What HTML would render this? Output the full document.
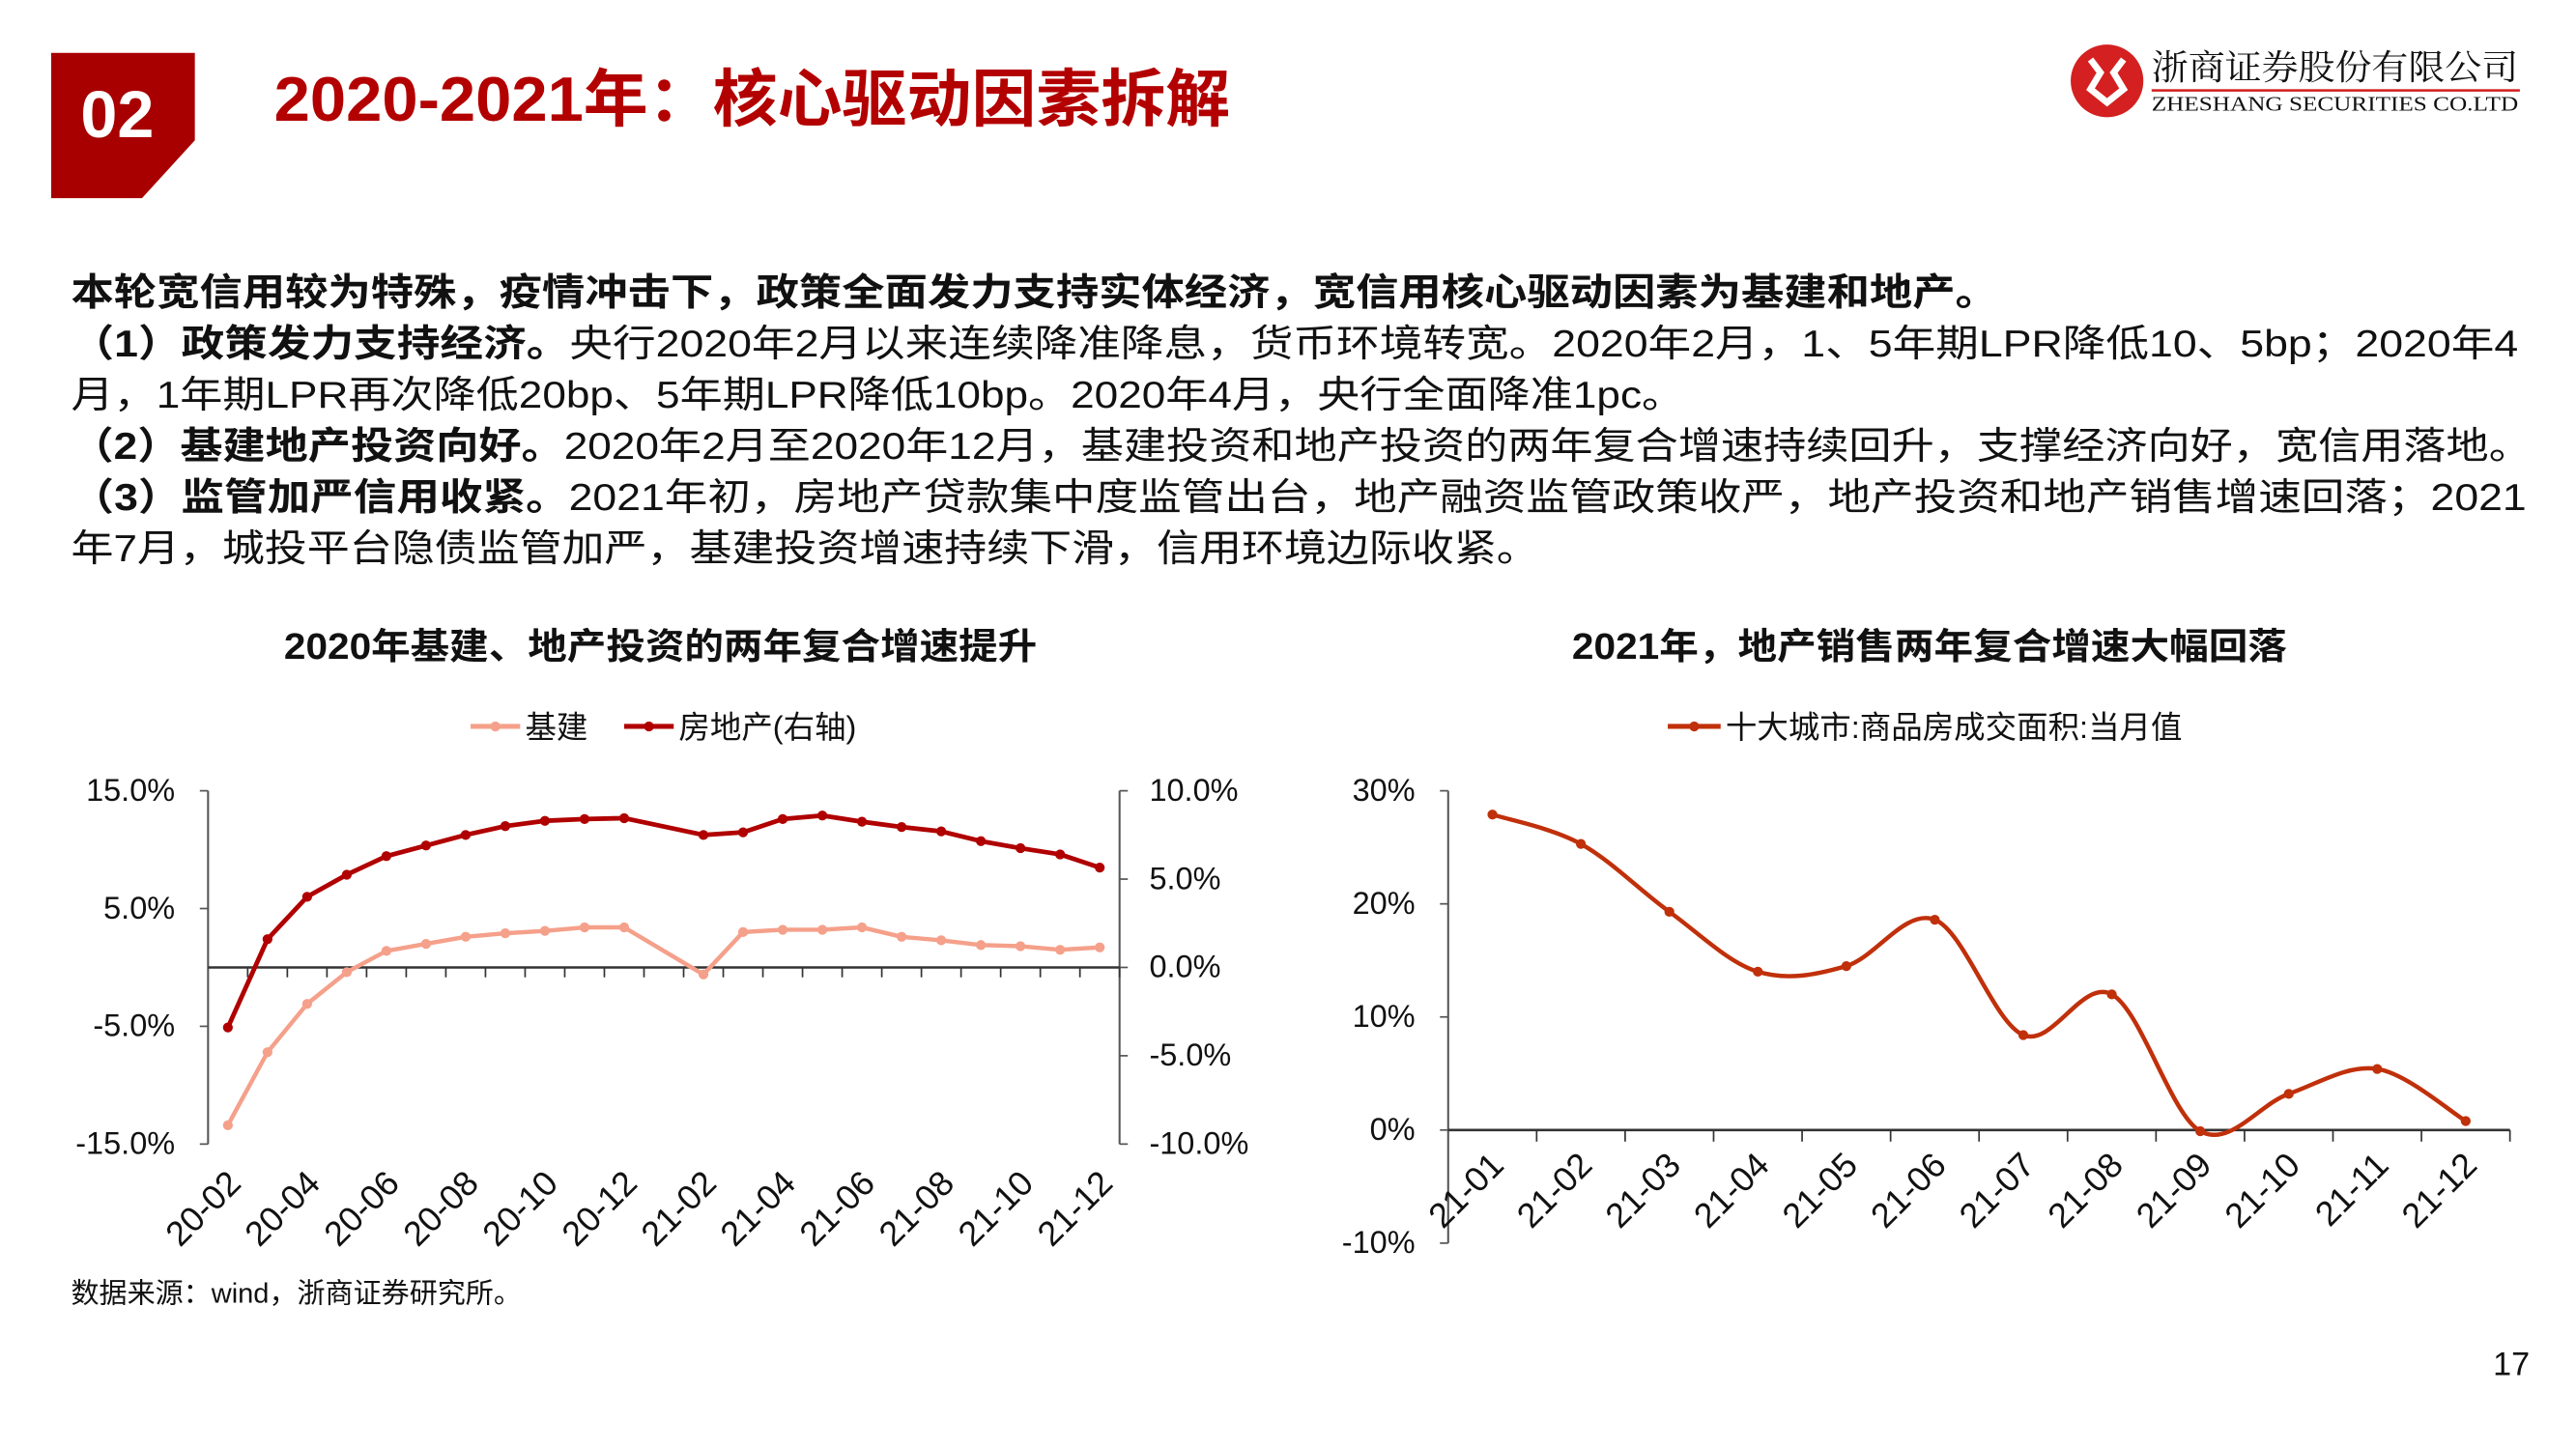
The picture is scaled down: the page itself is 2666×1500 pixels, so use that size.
<!DOCTYPE html>
<html><head><meta charset="utf-8"><style>
html,body{margin:0;padding:0;background:#fff;}
svg{display:block;font-family:"Liberation Sans","Noto Sans CJK SC",sans-serif;}
</style></head><body>
<svg id="page" width="2666" height="1500" viewBox="0 0 1560 877.7" xmlns="http://www.w3.org/2000/svg">
<polygon points="31,32 118,32 118,85 86,120 31,120" fill="#a80000"/>
<text x="71" y="83" font-size="40" font-weight="bold" fill="#fff" text-anchor="middle">02</text>
<text x="166" y="73" font-size="38" font-weight="bold" fill="#b30000" textLength="579" lengthAdjust="spacingAndGlyphs">2020-2021年：核心驱动因素拆解</text>
<g>
<circle cx="1276" cy="49" r="22" fill="#d42020"/>
<path d="M1266,36 L1272,44 L1266,54 L1276,62 L1286,54 L1280,44 L1286,36" fill="none" stroke="#fff" stroke-width="4"/>
<text x="1303" y="48" font-size="21" fill="#111" font-family="'Noto Serif CJK SC',serif" textLength="222" lengthAdjust="spacingAndGlyphs">浙商证券股份有限公司</text>
<rect x="1303" y="54" width="223" height="1.5" fill="#d42020"/>
<text x="1303" y="67" font-size="12.5" fill="#111" font-family="'Liberation Serif',serif" textLength="222" lengthAdjust="spacingAndGlyphs">ZHESHANG SECURITIES CO.LTD</text>
</g>
<g font-size="23" fill="#111">
<text x="43" y="185" font-weight="bold" textLength="1167" lengthAdjust="spacingAndGlyphs">本轮宽信用较为特殊，疫情冲击下，政策全面发力支持实体经济，宽信用核心驱动因素为基建和地产。</text>
<text x="43" y="216" textLength="1482" lengthAdjust="spacingAndGlyphs"><tspan font-weight="bold">（1）政策发力支持经济。</tspan>央行2020年2月以来连续降准降息，货币环境转宽。2020年2月，1、5年期LPR降低10、5bp；2020年4</text>
<text x="43" y="247" textLength="977" lengthAdjust="spacingAndGlyphs">月，1年期LPR再次降低20bp、5年期LPR降低10bp。2020年4月，央行全面降准1pc。</text>
<text x="43" y="278" textLength="1490" lengthAdjust="spacingAndGlyphs"><tspan font-weight="bold">（2）基建地产投资向好。</tspan>2020年2月至2020年12月，基建投资和地产投资的两年复合增速持续回升，支撑经济向好，宽信用落地。</text>
<text x="43" y="309" textLength="1487" lengthAdjust="spacingAndGlyphs"><tspan font-weight="bold">（3）监管加严信用收紧。</tspan>2021年初，房地产贷款集中度监管出台，地产融资监管政策收严，地产投资和地产销售增速回落；2021</text>
<text x="43" y="340" textLength="889" lengthAdjust="spacingAndGlyphs">年7月，城投平台隐债监管加严，基建投资增速持续下滑，信用环境边际收紧。</text>
</g>
<text x="172" y="399" font-size="22" font-weight="bold" fill="#111" textLength="456" lengthAdjust="spacingAndGlyphs">2020年基建、地产投资的两年复合增速提升</text>
<text x="952" y="399" font-size="22" font-weight="bold" fill="#111" textLength="433" lengthAdjust="spacingAndGlyphs">2021年，地产销售两年复合增速大幅回落</text>
<g>
<line x1="285" y1="440" x2="315" y2="440" stroke="#f5a08a" stroke-width="3"/><circle cx="300" cy="440" r="3" fill="#f5a08a"/>
<text x="318" y="447" font-size="19" fill="#111">基建</text>
<line x1="378" y1="440" x2="408" y2="440" stroke="#b00000" stroke-width="3"/><circle cx="393" cy="440" r="3" fill="#b00000"/>
<text x="411" y="447" font-size="19" fill="#111">房地产(右轴)</text>
</g>
<g>
<line x1="1010" y1="440" x2="1042" y2="440" stroke="#c0300a" stroke-width="3"/><circle cx="1026" cy="440" r="3" fill="#c0300a"/>
<text x="1045" y="447" font-size="19" fill="#111">十大城市:商品房成交面积:当月值</text>
</g>
<g id="left-chart"></g>
<g id="right-chart"></g>
<text x="43" y="789" font-size="17" fill="#111">数据来源：wind，浙商证券研究所。</text>
<text x="1532" y="833" font-size="20" fill="#111" text-anchor="end">17</text>
</svg>
<script>
const leftCats = ["20-02","20-03","20-04","20-05","20-06","20-07","20-08","20-09","20-10","20-11","20-12","21-01","21-02","21-03","21-04","21-05","21-06","21-07","21-08","21-09","21-10","21-11","21-12"];
const jijian = [-13.4,-7.2,-3.1,-0.4,1.4,2.0,2.6,2.9,3.1,3.4,3.4,null,-0.6,3.0,3.2,3.2,3.4,2.6,2.3,1.9,1.8,1.5,1.7];
const realEstate = [-3.4,1.6,4.0,5.25,6.3,6.9,7.5,8.0,8.3,8.4,8.45,null,7.5,7.65,8.4,8.6,8.25,7.95,7.7,7.15,6.75,6.4,5.65];
const leftTicks = [15,5,-5,-15];
const rightTicks = [10,5,0,-5,-10];
const rightCats = ["21-01","21-02","21-03","21-04","21-05","21-06","21-07","21-08","21-09","21-10","21-11","21-12"];
const sales = [27.9,25.3,19.3,14.0,14.5,18.6,8.4,12.0,-0.1,3.2,5.4,0.8];
const salesTicks = [30,20,10,0,-10];
const NS="http://www.w3.org/2000/svg";
function mk(parent,tag,attrs){const e=document.createElementNS(NS,tag);for(const k in attrs)e.setAttribute(k,attrs[k]);parent.appendChild(e);return e;}

const L=document.getElementById('left-chart');
const lx0=126,lx1=678,ly0=479,ly1=693;
const lcw=(lx1-lx0)/leftCats.length;
const xL=i=>lx0+lcw*(i+0.5);
const yL=v=>ly0+(15-v)/30*(ly1-ly0);
const yR=v=>ly0+(10-v)/20*(ly1-ly0);
mk(L,'line',{x1:lx0,y1:ly0,x2:lx0,y2:ly1,stroke:'#555','stroke-width':1.2});
mk(L,'line',{x1:lx1,y1:ly0,x2:lx1,y2:ly1,stroke:'#555','stroke-width':1.2});
leftTicks.forEach(t=>{
  mk(L,'line',{x1:lx0-5,y1:yL(t),x2:lx0,y2:yL(t),stroke:'#555'});
  const tx=mk(L,'text',{x:lx0-20,y:yL(t)+6,'font-size':19,'text-anchor':'end',fill:'#111'});
  tx.textContent=t.toFixed(1)+'%';
  
  
});
rightTicks.forEach(t=>{
  mk(L,'line',{x1:lx1,y1:yR(t),x2:lx1+5,y2:yR(t),stroke:'#555'});
  const tx=mk(L,'text',{x:lx1+18,y:yR(t)+6,'font-size':19,fill:'#111'});
  tx.textContent=t.toFixed(1)+'%';
  
  
});
mk(L,'line',{x1:lx0,y1:yL(0),x2:lx1,y2:yL(0),stroke:'#333','stroke-width':1.5});
leftCats.forEach((c,i)=>{
  const tx0=lx0+lcw*(i+1);
  mk(L,'line',{x1:tx0,y1:yL(0),x2:tx0,y2:yL(0)+6,stroke:'#333'});
  if(i%2===0){
    const x=xL(i)+9,y=718;
    const t=mk(L,'text',{x:x,y:y,'font-size':21,'text-anchor':'end',fill:'#111',transform:`rotate(-45 ${x} ${y})`});
    t.textContent=c;
    
    
  }
});
function series(parent,vals,xf,yf,color,w,name){
  const pts=[];vals.forEach((v,i)=>{if(v!==null)pts.push([xf(i),yf(v)]);});
  const p=mk(parent,'polyline',{points:pts.map(p=>p.join(',')).join(' '),fill:'none',stroke:color,'stroke-width':w,'stroke-linejoin':'round'});
  
  
  pts.forEach(q=>{const c=mk(parent,'circle',{cx:q[0],cy:q[1],r:3,fill:color});
    
    });
}
series(L,jijian,xL,yL,'#f5a08a',2.6,'jijian');
series(L,realEstate,xL,yR,'#b00000',2.8,'realestate');

const R=document.getElementById('right-chart');
const rx0=877,rx1=1520,ry0=479,ry1=753;
const rcw=(rx1-rx0)/rightCats.length;
const xS=i=>rx0+rcw*(i+0.5);
const yS=v=>ry0+(30-v)/40*(ry1-ry0);
mk(R,'line',{x1:rx0,y1:ry0,x2:rx0,y2:ry1,stroke:'#555','stroke-width':1.2});
salesTicks.forEach(t=>{
  mk(R,'line',{x1:rx0-5,y1:yS(t),x2:rx0,y2:yS(t),stroke:'#555'});
  const tx=mk(R,'text',{x:rx0-20,y:yS(t)+6,'font-size':19,'text-anchor':'end',fill:'#111'});
  tx.textContent=t+'%';
  
  
});
mk(R,'line',{x1:rx0,y1:yS(0),x2:rx1,y2:yS(0),stroke:'#333','stroke-width':1.5});
rightCats.forEach((c,i)=>{
  const tx0=rx0+rcw*(i+1);
  mk(R,'line',{x1:tx0,y1:yS(0),x2:tx0,y2:yS(0)+7,stroke:'#333'});
  const x=xS(i)+8,y=707;
  const t=mk(R,'text',{x:x,y:y,'font-size':21,'text-anchor':'end',fill:'#111',transform:`rotate(-45 ${x} ${y})`});
  t.textContent=c;
  
  
});
const sp=sales.map((v,i)=>[xS(i),yS(v)]);
let d=`M${sp[0][0]},${sp[0][1]}`;
for(let i=0;i<sp.length-1;i++){
  const p0=sp[Math.max(0,i-1)],p1=sp[i],p2=sp[i+1],p3=sp[Math.min(sp.length-1,i+2)];
  const k=1/6;
  d+=` C${p1[0]+(p2[0]-p0[0])*k},${p1[1]+(p2[1]-p0[1])*k} ${p2[0]-(p3[0]-p1[0])*k},${p2[1]-(p3[1]-p1[1])*k} ${p2[0]},${p2[1]}`;
}
const sl=mk(R,'path',{d:d,fill:'none',stroke:'#c0300a','stroke-width':2.6});


sp.forEach(q=>{const c=mk(R,'circle',{cx:q[0],cy:q[1],r:3,fill:'#c0300a'});
  
  });
</script>
</body></html>
